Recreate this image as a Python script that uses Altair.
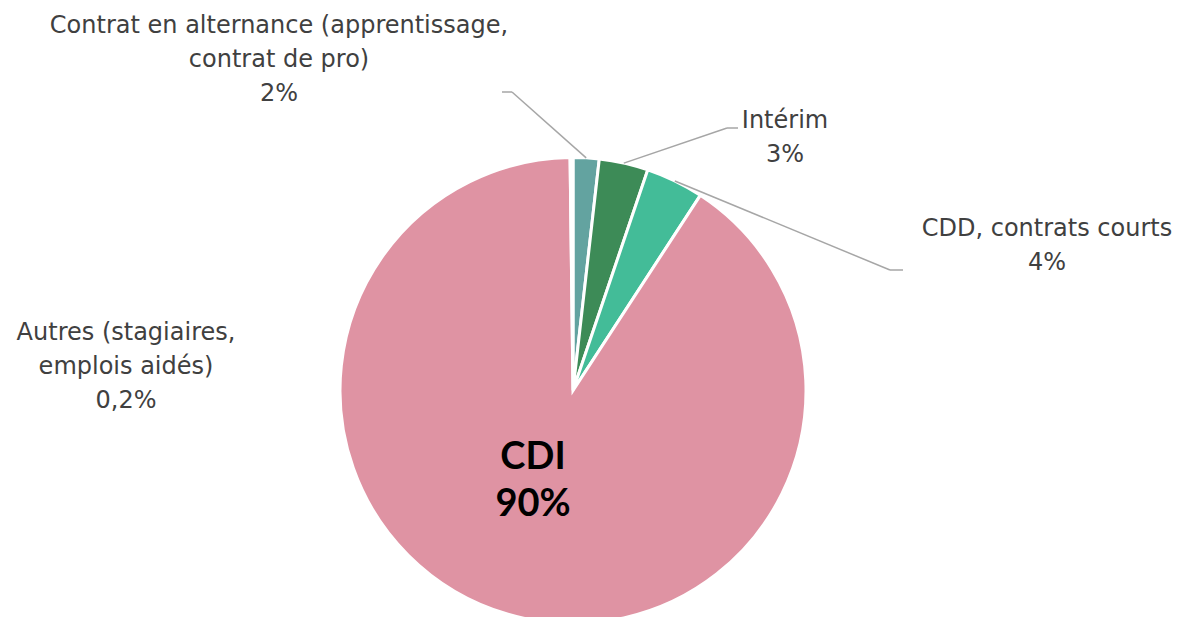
import math
import altair as alt
import pandas as pd

# ---- data ----
categories = ["Contrat en alternance", "Intérim", "CDD, contrats courts", "CDI", "Autres"]
values = [1.8, 3.4, 4.0, 90.6, 0.2]
colors = ["#63A3A0", "#3D8B57", "#43BC98", "#DF93A3", "#FFFFFF"]
label_texts = [
    "Contrat en alternance (apprentissage,\ncontrat de pro)\n2%",
    "Intérim\n3%",
    "CDD, contrats courts\n4%",
    "CDI\n90%",
    "Autres (stagiaires,\nemplois aidés)\n0,2%",
]

# ---- layout ----
W, H = 1166, 609
CX, CY, R = 565, 382.5, 233
FONT = "DejaVu Sans"
GRAY = "#404040"
LINE = "#A6A6A6"

df = pd.DataFrame({"cat": categories, "value": values, "rank": list(range(len(categories)))})

pie = alt.Chart(df).mark_arc(radius=R, stroke="white", strokeWidth=3).encode(
    theta=alt.Theta("value:Q", stack=True),
    order=alt.Order("rank:Q"),
    color=alt.Color("cat:N", scale=alt.Scale(domain=categories, range=colors), legend=None),
    x=alt.value(CX),
    y=alt.value(CY),
)

# mid-angle edge points, derived from the data
total = sum(values)
mids = []
acc = 0.0
for v in values:
    a = (acc + v / 2) / total * 2 * math.pi
    mids.append((CX + R * math.sin(a), CY - R * math.cos(a)))
    acc += v

# leader line elbow / end points (layout)
leaders = {
    0: [(504, 84), (494, 84)],
    1: [(719, 120), (730, 120)],
    2: [(882, 262), (895, 262)],
}

layers = [pie]
for i, pts in leaders.items():
    prev = mids[i]
    for p in pts:
        layers.append(
            alt.Chart(df.head(1)).mark_rule(color=LINE, strokeWidth=1.5).encode(
                x=alt.value(prev[0]), y=alt.value(prev[1]),
                x2=alt.value(p[0]), y2=alt.value(p[1]),
            )
        )
        prev = p

# first-line centres of each label block (layout)
label_pos = [(271, 18), (777, 113), (1039, 221), (525, 450), (118, 325)]
for i, (txt, (lx, ly)) in enumerate(zip(label_texts, label_pos)):
    is_cdi = categories[i] == "CDI"
    layers.append(
        alt.Chart(df.head(1)).mark_text(
            text=txt.split("\n"),
            font="Lato" if is_cdi else FONT,
            fontSize=38 if is_cdi else 24,
            fontWeight="bold" if is_cdi else "normal",
            lineHeight=47 if is_cdi else 34,
            color="#000000" if is_cdi else GRAY,
            align="center",
            baseline="middle",
        ).encode(x=alt.value(lx), y=alt.value(ly))
    )

chart = alt.layer(*layers).properties(
    width=W, height=H, autosize=alt.AutoSizeParams(type="none"), padding=0
).configure_view(strokeWidth=0)

chart.save("out.html", embed_options={"renderer": "svg", "actions": False})
